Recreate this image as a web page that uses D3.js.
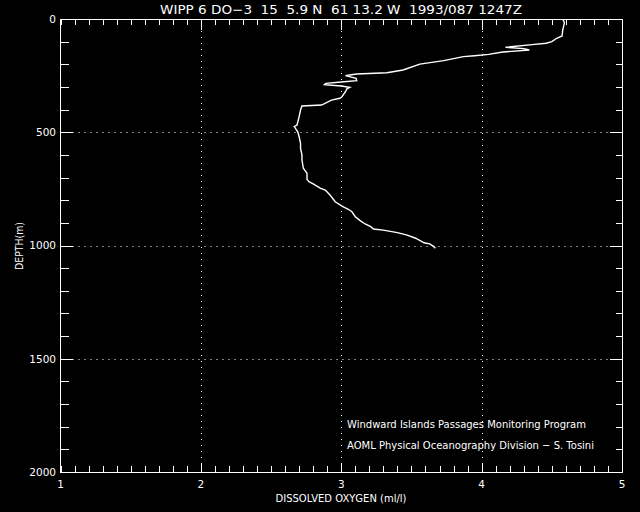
<!DOCTYPE html>
<html><head><meta charset="utf-8">
<script src="https://cdn.jsdelivr.net/npm/d3@7"></script>
<style>
html,body{margin:0;padding:0;background:#000;}
svg{display:block;background:#000;}
text{fill:#fff;font-family:"DejaVu Sans",sans-serif;white-space:pre;}
</style></head>
<body>
<svg id="chart" width="640" height="512"></svg>
<script>
const titleText = "WIPP 6 DO\u22123  15  5.9 N  61 13.2 W  1993/087 1247Z";
const xTitle = "DISSOLVED OXYGEN (ml/l)";
const yTitle = "DEPTH(m)";
const noteLines = ["Windward Islands Passages Monitoring Program",
                   "AOML Physical Oceanography Division \u2212 S. Tosini"];
const xTickValues = [1, 2, 3, 4, 5];
const yTickValues = [0, 500, 1000, 1500, 2000];
const xGridValues = [2, 3, 4];
const yGridValues = [500, 1000, 1500];

const depth = [4, 15, 30, 48, 75, 85, 100, 107, 113, 125, 131, 137, 146, 156, 162, 166, 184, 199, 225, 237,
  243, 247, 250, 262, 272, 278, 284, 290, 296, 302, 308, 321, 343, 350, 358, 380, 384, 402, 431, 468,
  475, 498, 520, 549, 571, 600, 622, 659, 681, 708, 718, 728, 747, 755, 777, 807, 826, 840, 851, 873,
  890, 905, 917, 927, 932, 943, 954, 968, 988, 993, 1005, 1012];
const oxygen = [4.58, 4.59, 4.585, 4.578, 4.573, 4.535, 4.50, 4.46, 4.36, 4.17, 4.30, 4.34, 4.15, 4.05, 3.95, 3.87, 3.73, 3.56, 3.44, 3.325,
  3.11, 3.06, 3.03, 3.106, 3.11, 3.00, 2.89, 2.88, 3.00, 3.06, 3.04, 3.03, 3.005, 2.99, 2.93, 2.86, 2.72, 2.71, 2.70, 2.685,
  2.665, 2.69, 2.70, 2.71, 2.71, 2.72, 2.72, 2.73, 2.756, 2.756, 2.77, 2.80, 2.85, 2.886, 2.92, 2.957, 3.005, 3.05, 3.076, 3.10,
  3.135, 3.17, 3.21, 3.23, 3.30, 3.40, 3.47, 3.53, 3.59, 3.63, 3.66, 3.67];

const L = 60.5, R = 622, T = 19, B = 472;
const svg = d3.select("#chart");
const x = d3.scaleLinear().domain([1, 5]).range([L, R]);
const y = d3.scaleLinear().domain([0, 2000]).range([T, B]);

// grid
const g = svg.append("g");
g.selectAll(".gx").data(xGridValues).enter().append("line")
  .attr("x1", d => Math.round(x(d)) + 0.5).attr("x2", d => Math.round(x(d)) + 0.5)
  .attr("y1", T).attr("y2", B)
  .attr("stroke", "#fff").attr("stroke-width", 1).attr("stroke-dasharray", "1,5");
g.selectAll(".gy").data(yGridValues).enter().append("line")
  .attr("y1", d => Math.round(y(d)) + 0.5).attr("y2", d => Math.round(y(d)) + 0.5)
  .attr("x1", L).attr("x2", R)
  .attr("stroke", "#fff").attr("stroke-width", 1).attr("stroke-dasharray", "1,5");

// axes with minor ticks
const xMinor = d3.range(1, 5.0001, 0.1).map(v => +v.toFixed(2));
const yMinor = d3.range(0, 2000.1, 100);
function styleAxis(sel) {
  sel.select(".domain").remove();
  sel.selectAll("line").attr("stroke", "#fff").attr("shape-rendering", "crispEdges");
  sel.selectAll("text").remove();
}
svg.append("g").attr("transform", `translate(0,${B})`)
  .call(d3.axisTop(x).tickValues(xMinor).tickSize(6)).call(styleAxis);
svg.append("g").attr("transform", `translate(0,${T})`)
  .call(d3.axisBottom(x).tickValues(xMinor).tickSize(6)).call(styleAxis);
svg.append("g").attr("transform", `translate(${L},0)`)
  .call(d3.axisRight(y).tickValues(yMinor).tickSize(8)).call(styleAxis);
svg.append("g").attr("transform", `translate(${R},0)`)
  .call(d3.axisLeft(y).tickValues(yMinor).tickSize(6)).call(styleAxis);
// major ticks
svg.append("g").attr("transform", `translate(0,${T})`)
  .call(d3.axisBottom(x).tickValues(xGridValues).tickSize(11)).call(styleAxis);
svg.append("g").attr("transform", `translate(0,${B})`)
  .call(d3.axisTop(x).tickValues(xGridValues).tickSize(9)).call(styleAxis);
svg.append("g").attr("transform", `translate(${L},0)`)
  .call(d3.axisRight(y).tickValues(yGridValues).tickSize(12)).call(styleAxis);
svg.append("g").attr("transform", `translate(${R},0)`)
  .call(d3.axisLeft(y).tickValues(yGridValues).tickSize(12)).call(styleAxis);

// frame
svg.append("rect").attr("x", L).attr("y", T).attr("width", R - L).attr("height", B - T)
  .attr("fill", "none").attr("stroke", "#fff").attr("stroke-width", 1).attr("shape-rendering", "crispEdges");

// tick labels
svg.selectAll(".xl").data(xTickValues).enter().append("text")
  .attr("x", d => x(d)).attr("y", 488).attr("text-anchor", "middle")
  .attr("font-size", 10.5).text(d => d);
svg.selectAll(".yl").data(yTickValues).enter().append("text")
  .attr("x", 56).attr("y", d => y(d) + 3.8).attr("text-anchor", "end")
  .attr("font-size", 10.5).text(d => d);

// titles
svg.append("text").attr("x", 341).attr("y", 13.5).attr("text-anchor", "middle")
  .attr("xml:space", "preserve")
  .attr("font-size", 12.5).attr("textLength", 362).attr("lengthAdjust", "spacingAndGlyphs").text(titleText);
svg.append("text").attr("x", 341).attr("y", 501.5).attr("text-anchor", "middle")
  .attr("font-size", 10.5).attr("textLength", 131).attr("lengthAdjust", "spacingAndGlyphs").text(xTitle);
svg.append("text").attr("transform", "translate(23,246) rotate(-90)").attr("text-anchor", "middle")
  .attr("font-size", 10.5).attr("textLength", 48).attr("lengthAdjust", "spacingAndGlyphs").text(yTitle);

// notes
const noteWidths = [239, 247];
svg.selectAll(".note").data(noteLines).enter().append("text")
  .attr("x", 347).attr("y", (d, i) => 428 + i * 21)
  .attr("font-size", 10.5).attr("textLength", (d, i) => noteWidths[i]).attr("lengthAdjust", "spacingAndGlyphs")
  .text(d => d);

// profile
const line = d3.line().x((d, i) => x(oxygen[i])).y(d => y(d));
svg.append("path").datum(depth).attr("d", line)
  .attr("fill", "none").attr("stroke", "#fff").attr("stroke-width", 1.4).attr("stroke-linejoin", "miter");
</script>
</body></html>
